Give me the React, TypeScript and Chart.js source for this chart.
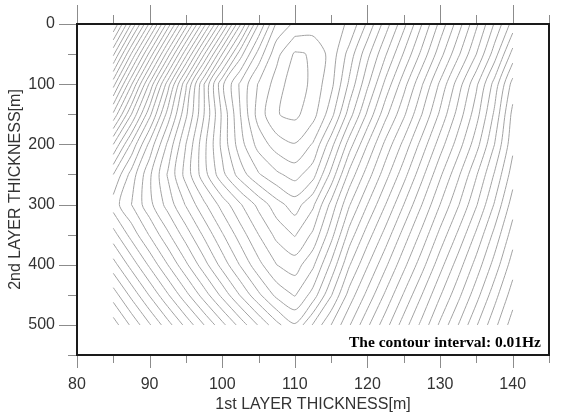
import { useEffect, useRef } from "react";
import { Chart, registerables } from "chart.js";

Chart.register(...registerables);

// 1st layer thickness [m] (grid columns)
const layer1 = [85, 87.5, 90, 92.5, 95, 97.5, 100, 102.5, 105, 107.5, 110, 112.5, 115, 117.5, 120, 122.5, 125, 127.5, 130, 132.5, 135, 137.5, 140];
// 2nd layer thickness [m] (grid rows)
const layer2 = [0, 50, 100, 150, 200, 250, 300, 350, 400, 450, 500];

// frequency above the minimum, in units of the contour interval (0.01 Hz), one row per 2nd-layer thickness
const freqAt0 = [40.0, 35.9, 31.8, 27.6, 23.5, 19.4, 15.3, 11.1, 7.0, 3.8, 2.8, 2.6, 2.7, 3.1, 5.2, 7.5, 9.7, 12.0, 14.3, 16.5, 18.8, 21.1, 23.4];
const freqAt50 = [36.2, 31.9, 27.7, 23.5, 19.3, 15.1, 11.0, 7.4, 4.6, 2.3, 0.85, 1.1, 2.4, 4.4, 6.7, 8.9, 11.1, 13.3, 15.6, 17.8, 20.0, 22.5, 25.4];
const freqAt100 = [32.4, 28.1, 23.8, 19.5, 15.2, 11.0, 7.2, 4.8, 2.9, 1.55, 0.3, 1.3, 2.7, 5.2, 7.8, 10.3, 12.6, 14.9, 17.2, 19.5, 21.8, 24.4, 27.4];
const freqAt150 = [28.8, 25.0, 21.3, 17.6, 14.2, 11.0, 7.8, 5.0, 2.55, 1.05, 0.75, 1.6, 3.6, 6.5, 9.2, 11.7, 13.8, 16.0, 18.2, 20.4, 22.6, 25.2, 28.3];
const freqAt200 = [25.0, 21.8, 18.7, 15.8, 13.0, 10.3, 7.7, 5.4, 3.6, 2.5, 2.05, 3.1, 5.6, 8.5, 11.0, 13.3, 15.3, 17.4, 19.5, 21.5, 23.6, 26.0, 28.7];
const freqAt250 = [22.0, 19.6, 17.2, 14.9, 12.6, 10.4, 8.3, 6.5, 5.1, 4.2, 3.6, 4.6, 7.3, 10.3, 12.5, 14.6, 16.6, 18.7, 20.8, 22.8, 24.9, 27.1, 29.5];
const freqAt300 = [20.5, 19.0, 17.3, 15.6, 13.9, 12.2, 10.6, 9.1, 7.7, 6.4, 5.5, 6.8, 9.3, 11.9, 14.0, 16.0, 18.0, 20.0, 22.0, 23.9, 25.9, 28.1, 30.5];
const freqAt350 = [22.4, 20.6, 18.9, 17.2, 15.5, 13.8, 12.1, 10.5, 9.0, 7.7, 6.9, 8.2, 10.6, 13.4, 15.5, 17.4, 19.4, 21.3, 23.3, 25.2, 27.2, 29.3, 31.5];
const freqAt400 = [24.4, 22.6, 20.8, 19.0, 17.2, 15.4, 13.6, 11.9, 10.3, 9.0, 8.5, 9.8, 12.2, 14.9, 16.9, 18.8, 20.7, 22.6, 24.6, 26.5, 28.4, 30.4, 32.5];
const freqAt450 = [26.5, 24.7, 22.9, 21.1, 19.3, 17.5, 15.7, 13.9, 12.2, 10.7, 9.9, 11.4, 13.9, 16.4, 18.3, 20.2, 22.1, 24.0, 25.9, 27.7, 29.6, 31.6, 33.5];
const freqAt500 = [28.5, 26.8, 25.1, 23.4, 21.7, 20.0, 18.3, 16.6, 14.9, 13.3, 12.1, 14.1, 16.0, 17.9, 19.8, 21.6, 23.5, 25.3, 27.2, 29.0, 30.9, 32.7, 34.5];

const contourLevels = [1, 2, 3, 4, 5, 6, 7, 8, 9, 10, 11, 12, 13, 14, 15, 16, 17, 18, 19, 20, 21, 22, 23, 24, 25, 26, 27, 28, 29, 30, 31, 32, 33, 34, 35, 36, 37, 38, 39, 40];

const xTickLabels = [80, 90, 100, 110, 120, 130, 140];
const yTickLabels = [0, 100, 200, 300, 400, 500];
const xTickMarks = [80, 85, 90, 95, 100, 105, 110, 115, 120, 125, 130, 135, 140, 145];
const yTickMarks = [0, 50, 100, 150, 200, 250, 300, 350, 400, 450, 500, 550];

type Pt = { x: number; y: number };

function traceContours(xs: number[], ys: number[], grid: number[][], level: number): Pt[][] {
  const segs: { k1: string; p1: Pt; k2: string; p2: Pt }[] = [];
  const lv = level + 1e-6;
  const cross = (xa: number, ya: number, va: number, xb: number, yb: number, vb: number): Pt => {
    const t = (lv - va) / (vb - va);
    return { x: xa + t * (xb - xa), y: ya + t * (yb - ya) };
  };
  for (let j = 0; j < ys.length - 1; j++) {
    for (let i = 0; i < xs.length - 1; i++) {
      const a = grid[j][i], b = grid[j][i + 1], c = grid[j + 1][i + 1], d = grid[j + 1][i];
      const x0 = xs[i], x1 = xs[i + 1], y0 = ys[j], y1 = ys[j + 1];
      const hits: { k: string; p: Pt }[] = [];
      if ((a < lv) !== (b < lv)) hits.push({ k: `h${i},${j}`, p: cross(x0, y0, a, x1, y0, b) });
      if ((b < lv) !== (c < lv)) hits.push({ k: `v${i + 1},${j}`, p: cross(x1, y0, b, x1, y1, c) });
      if ((d < lv) !== (c < lv)) hits.push({ k: `h${i},${j + 1}`, p: cross(x0, y1, d, x1, y1, c) });
      if ((a < lv) !== (d < lv)) hits.push({ k: `v${i},${j}`, p: cross(x0, y0, a, x0, y1, d) });
      if (hits.length === 2) {
        segs.push({ k1: hits[0].k, p1: hits[0].p, k2: hits[1].k, p2: hits[1].p });
      } else if (hits.length === 4) {
        const center = (a + b + c + d) / 4;
        if ((a < lv) === (center < lv)) {
          segs.push({ k1: hits[0].k, p1: hits[0].p, k2: hits[1].k, p2: hits[1].p });
          segs.push({ k1: hits[2].k, p1: hits[2].p, k2: hits[3].k, p2: hits[3].p });
        } else {
          segs.push({ k1: hits[0].k, p1: hits[0].p, k2: hits[3].k, p2: hits[3].p });
          segs.push({ k1: hits[1].k, p1: hits[1].p, k2: hits[2].k, p2: hits[2].p });
        }
      }
    }
  }
  const byKey = new Map<string, number[]>();
  segs.forEach((s, idx) => {
    for (const k of [s.k1, s.k2]) {
      if (!byKey.has(k)) byKey.set(k, []);
      byKey.get(k)!.push(idx);
    }
  });
  const used = new Array(segs.length).fill(false);
  const lines: Pt[][] = [];
  const extend = (startKey: string, out: Pt[]) => {
    let key = startKey;
    for (;;) {
      const cand = (byKey.get(key) || []).find((n) => !used[n]);
      if (cand === undefined) break;
      used[cand] = true;
      const s = segs[cand];
      if (s.k1 === key) { out.push(s.p2); key = s.k2; } else { out.push(s.p1); key = s.k1; }
    }
  };
  for (let n = 0; n < segs.length; n++) {
    if (used[n]) continue;
    used[n] = true;
    const s = segs[n];
    const fwd: Pt[] = [];
    extend(s.k2, fwd);
    const back: Pt[] = [];
    extend(s.k1, back);
    lines.push([...back.reverse(), s.p1, s.p2, ...fwd]);
  }
  return lines;
}

const framePlugin = {
  id: "gmtFrame",
  afterDatasetsDraw(chart: any) {
    const { ctx, chartArea: a, scales } = chart;
    const xs = scales.x, ys = scales.y;
    ctx.save();
    ctx.strokeStyle = "#8c8c8c";
    ctx.lineWidth = 1;
    ctx.beginPath();
    for (const v of xTickMarks) {
      const px = Math.round(xs.getPixelForValue(v)) + 0.5;
      const major = v % 10 === 0;
      ctx.moveTo(px, a.bottom);
      ctx.lineTo(px, a.bottom + (major ? 13 : 8));
      ctx.moveTo(px, a.top);
      ctx.lineTo(px, a.top - (major ? 19 : 9));
    }
    for (const v of yTickMarks) {
      const py = Math.round(ys.getPixelForValue(v)) + 0.5;
      const major = v % 100 === 0;
      ctx.moveTo(a.left, py);
      ctx.lineTo(a.left - (major ? 18 : 9), py);
    }
    ctx.stroke();
    ctx.strokeStyle = "#1a1a1a";
    ctx.lineWidth = 2;
    ctx.strokeRect(a.left, a.top, a.right - a.left, a.bottom - a.top);
    ctx.font = 'bold 15.5px "Liberation Serif", "Times New Roman", serif';
    ctx.fillStyle = "#000";
    ctx.textAlign = "right";
    ctx.textBaseline = "alphabetic";
    ctx.fillText("The contour interval: 0.01Hz", a.right - 8, a.bottom - 8);
    ctx.restore();
  },
};

export default function App() {
  const ref = useRef<HTMLCanvasElement>(null);
  useEffect(() => {
    const grid = [freqAt0, freqAt50, freqAt100, freqAt150, freqAt200, freqAt250, freqAt300, freqAt350, freqAt400, freqAt450, freqAt500];
    const datasets: any[] = [];
    for (const level of contourLevels) {
      for (const line of traceContours(layer1, layer2, grid, level)) {
        datasets.push({
          data: line,
          showLine: true,
          pointRadius: 0,
          pointHoverRadius: 0,
          borderColor: "#a3a3a3",
          borderWidth: 1,
          tension: 0.25,
          fill: false,
        });
      }
    }
    const font = { family: '"Liberation Sans", Arial, Helvetica, sans-serif', size: 16 };
    const chart = new Chart(ref.current!, {
      type: "scatter",
      data: { datasets },
      options: {
        animation: false,
        responsive: false,
        devicePixelRatio: 1,
        layout: { padding: { top: 24, right: 12, left: 0, bottom: 0 } },
        plugins: { legend: { display: false }, tooltip: { enabled: false } },
        events: [],
        scales: {
          x: {
            type: "linear",
            min: 80,
            max: 145,
            afterBuildTicks: (s: any) => { s.ticks = xTickLabels.map((v) => ({ value: v })); },
            afterFit: (s: any) => { s.height = 62; },
            grid: { display: false, drawTicks: true, tickLength: 20 },
            border: { display: false },
            ticks: { font, color: "#333", padding: 0, autoSkip: false, maxRotation: 0 },
            title: { display: true, text: "1st LAYER THICKNESS[m]", font, color: "#333", padding: { top: 0, bottom: 3 } },
          },
          y: {
            type: "linear",
            min: 0,
            max: 550,
            reverse: true,
            afterBuildTicks: (s: any) => { s.ticks = yTickLabels.map((v) => ({ value: v })); },
            afterFit: (s: any) => { s.width = 77; },
            grid: { display: false, drawTicks: true, tickLength: 22 },
            border: { display: false },
            ticks: { font, color: "#333", padding: 0, autoSkip: false },
            title: { display: true, text: "2nd LAYER THICKNESS[m]", font, color: "#333", padding: { top: 6, bottom: 0 } },
          },
        },
      },
      plugins: [framePlugin],
    });
    return () => chart.destroy();
  }, []);
  return (
    <div style={{ position: "fixed", left: 0, top: 0, width: 561, height: 417, background: "#fff" }}>
      <canvas ref={ref} width={561} height={417} style={{ display: "block", width: 561, height: 417 }} />
    </div>
  );
}
